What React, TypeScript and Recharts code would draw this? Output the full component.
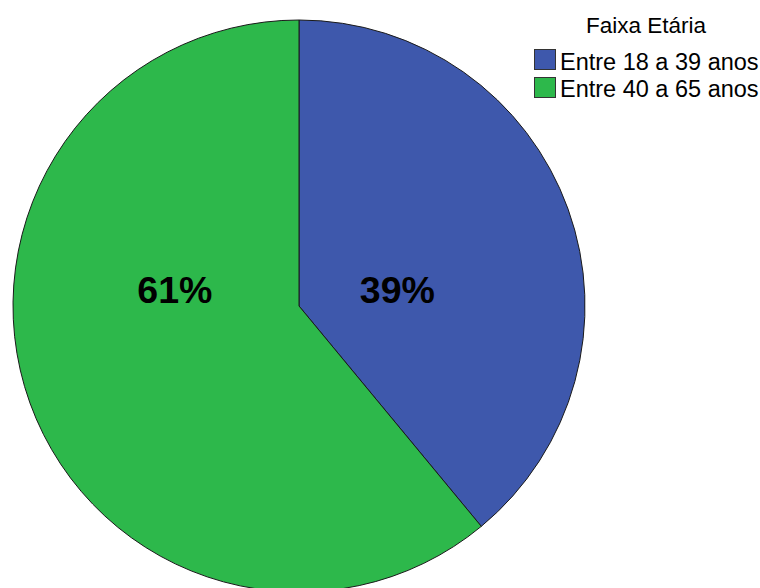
import { PieChart, Pie, Cell, Legend } from "recharts";

const categories = ["Entre 18 a 39 anos", "Entre 40 a 65 anos"];
const shares = [39, 61];
const colors = ["#3e58ac", "#2db84b"];
const legendTitle = "Faixa Etária";

const data = categories.map((name, i) => ({ name, value: shares[i] }));

const RAD = Math.PI / 180;
const font = "Liberation Sans, Arial, sans-serif";
const labelSize = 37.5;

function renderLabel(props: any) {
  const { cx, cy, midAngle, outerRadius, value, index } = props;
  // SPSS puts the labels near the horizontal through the centre
  const dir = Math.cos(-midAngle * RAD) >= 0 ? 1 : -1;
  const dist = index === 0 ? 0.344 : 0.434;
  const x = cx + dir * dist * outerRadius;
  const y = cy - 0.056 * outerRadius + 0.358 * labelSize;
  return (
    <text
      x={x}
      y={y}
      textAnchor="middle"
      fill="#000"
      style={{ fontFamily: font, fontSize: labelSize, fontWeight: 700 }}
    >
      {`${value}%`}
    </text>
  );
}

function LegendBox() {
  return (
    <div style={{ position: "relative", fontFamily: font, color: "#000", width: 226, height: 110 }}>
      <div
        style={{
          position: "absolute",
          left: 0,
          top: 15.3,
          width: 224,
          textAlign: "center",
          fontSize: 22.5,
          lineHeight: "22.5px",
          whiteSpace: "nowrap",
        }}
      >
        {legendTitle}
      </div>
      {categories.map((c, i) => (
        <div key={c}>
          <span
            style={{
              position: "absolute",
              left: 0,
              top: 49 + i * 28,
              width: 22,
              height: 21,
              background: colors[i],
              border: "1px solid #333",
              boxSizing: "border-box",
            }}
          />
          <span
            style={{
              position: "absolute",
              left: 26,
              top: 50.8 + i * 27.6,
              fontSize: 23.5,
              lineHeight: "23.5px",
              whiteSpace: "nowrap",
            }}
          >
            {c}
          </span>
        </div>
      ))}
    </div>
  );
}

export default function App() {
  return (
    <div style={{ position: "fixed", left: 0, top: 0, width: 760, height: 588, background: "#fff" }}>
      <PieChart width={760} height={588} margin={{ top: 0, right: 0, bottom: 0, left: 0 }}>
        <Pie
          data={data}
          dataKey="value"
          nameKey="name"
          cx={299}
          cy={306}
          outerRadius={286}
          startAngle={90}
          endAngle={-270}
          stroke="#1a1a1a"
          strokeWidth={1}
          label={renderLabel}
          labelLine={false}
          isAnimationActive={false}
        >
          {data.map((d, i) => (
            <Cell key={d.name} fill={colors[i]} />
          ))}
        </Pie>
        <Legend
          content={() => <LegendBox />}
          wrapperStyle={{ position: "absolute", top: 0, left: 534, width: 226 }}
        />
      </PieChart>
    </div>
  );
}
